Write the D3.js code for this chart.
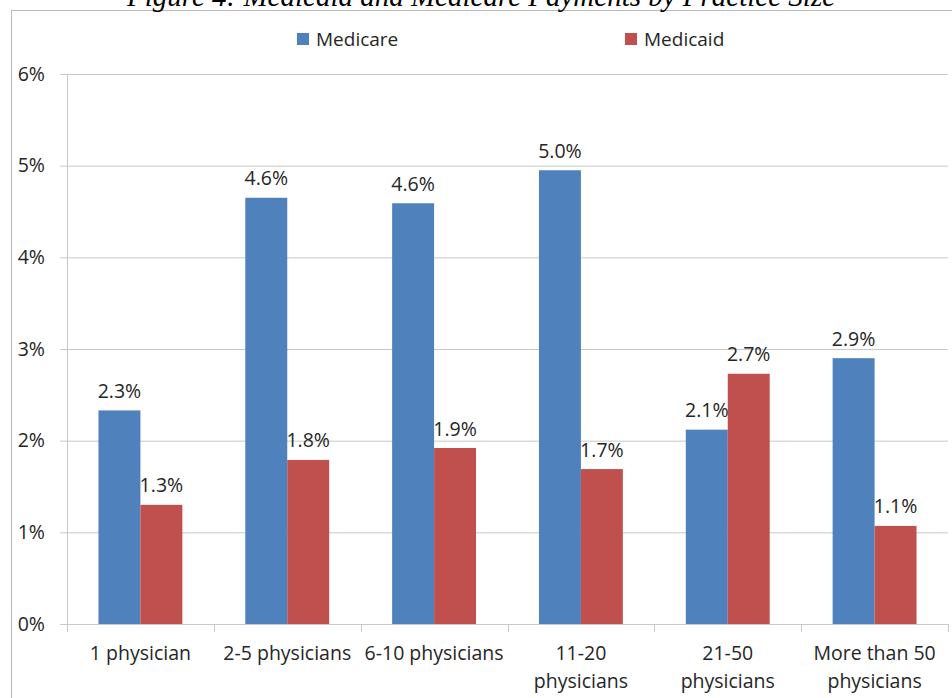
<!DOCTYPE html>
<html>
<head>
<meta charset="utf-8">
<script src="https://cdn.jsdelivr.net/npm/d3@7"></script>
<style>
  html, body { margin: 0; padding: 0; background: #fff; }
  svg { display: block; }
  text { font-family: "Open Sans", "Noto Sans", sans-serif; fill: #262626; }
</style>
</head>
<body>
<svg id="chart" width="952" height="698"></svg>
<script>
const title = "Figure 4: Medicaid and Medicare Payments by Practice Size";
const categories = ["1 physician", "2-5 physicians", "6-10 physicians", "11-20 physicians", "21-50 physicians", "More than 50 physicians"];
const seriesNames = ["Medicare", "Medicaid"];
const medicare = [2.33, 4.65, 4.59, 4.95, 2.12, 2.90];
const medicaid = [1.30, 1.79, 1.92, 1.69, 2.73, 1.07];
const medicareLabels = ["2.3%", "4.6%", "4.6%", "5.0%", "2.1%", "2.9%"];
const medicaidLabels = ["1.3%", "1.8%", "1.9%", "1.7%", "2.7%", "1.1%"];
const yTicks = [0, 1, 2, 3, 4, 5, 6];
const colors = ["#4F81BD", "#C0504D"];

const svg = d3.select("#chart");
const x0 = 67, x1 = 948, yBottom = 624, yTop = 74;
const fontSize = 19.5;

// chart border
svg.append("rect").attr("x", 11.5).attr("y", 10.5).attr("width", 1000).attr("height", 1000)
  .attr("fill", "none").attr("stroke", "#b8b8b8").attr("stroke-width", 1);

// title (partially clipped at top, as in the reference)
svg.append("text").attr("x", 481).attr("y", 6)
  .attr("text-anchor", "middle")
  .style("font-family", "'Liberation Serif', 'DejaVu Serif', serif")
  .style("font-style", "italic").style("font-size", "29px").style("fill", "#000")
  .text(title);

const x = d3.scaleBand().domain(categories).range([x0, x1]).paddingInner(0).paddingOuter(0);
const xs = d3.scaleBand().domain(seriesNames).range([0, x.bandwidth()]).paddingInner(0).paddingOuter(0.75);
const y = d3.scaleLinear().domain([0, 6]).range([yBottom, yTop]);

// gridlines + y axis
const yAxis = d3.axisLeft(y).tickValues(yTicks).tickFormat(d => d + "%").tickSize(-(x1 - x0)).tickPadding(22);
const gy = svg.append("g").attr("transform", `translate(${x0},0)`).call(yAxis);
gy.select(".domain").remove();
gy.selectAll(".tick line").attr("stroke", "#c8c8c8").attr("x1", -7);
gy.selectAll(".tick text").style("font-size", fontSize + "px").attr("fill", "#262626")
  .style("font-family", "'Open Sans', sans-serif");
svg.append("line").attr("x1", x0 + 0.5).attr("x2", x0 + 0.5).attr("y1", yTop).attr("y2", yBottom)
  .attr("stroke", "#c8c8c8");

// bars
const rows = categories.map((c, i) => ({ cat: c, values: [
  { s: seriesNames[0], v: medicare[i], label: medicareLabels[i], color: colors[0] },
  { s: seriesNames[1], v: medicaid[i], label: medicaidLabels[i], color: colors[1] }
]}));

const groups = svg.append("g").selectAll("g").data(rows).join("g")
  .attr("transform", d => `translate(${x(d.cat)},0)`);
groups.selectAll("rect").data(d => d.values).join("rect")
  .attr("x", d => xs(d.s)).attr("width", xs.bandwidth())
  .attr("y", d => y(d.v)).attr("height", d => yBottom - y(d.v))
  .attr("fill", d => d.color);
groups.selectAll("text.val").data(d => d.values).join("text").attr("class", "val")
  .attr("x", d => xs(d.s) + xs.bandwidth() / 2)
  .attr("y", d => y(d.v) - 12.5)
  .attr("text-anchor", "middle").style("font-size", fontSize + "px")
  .text(d => d.label);

// x axis
const xAxis = d3.axisBottom(x).tickSize(0).tickFormat("");
const gx = svg.append("g").attr("transform", `translate(0,${yBottom})`).call(xAxis);
gx.select(".domain").attr("stroke", "#c8c8c8").attr("d", `M${x0},0.5H${x1}`);
const boundaries = categories.map(c => x(c)).concat([x1]);
svg.append("g").selectAll("line").data(boundaries).join("line")
  .attr("x1", d => Math.round(d) + 0.5).attr("x2", d => Math.round(d) + 0.5)
  .attr("y1", yBottom).attr("y2", yBottom + 8).attr("stroke", "#c8c8c8");

// category labels with wrapping
const labels = svg.append("g").selectAll("text").data(categories).join("text")
  .attr("x", d => x(d) + x.bandwidth() / 2).attr("y", 660)
  .attr("text-anchor", "middle").style("font-size", fontSize + "px");
labels.each(function(d) {
  const t = d3.select(this);
  t.text(d);
  if (this.getComputedTextLength() > x.bandwidth() * 0.97) {
    const words = d.split(" ");
    const line1 = words.slice(0, -1).join(" ");
    const line2 = words[words.length - 1];
    t.text(null);
    t.append("tspan").attr("x", x(d) + x.bandwidth() / 2).attr("dy", 0).text(line1);
    t.append("tspan").attr("x", x(d) + x.bandwidth() / 2).attr("dy", 28).text(line2);
  }
});

// legend
const legendItems = [
  { name: seriesNames[0], color: colors[0], x: 297 },
  { name: seriesNames[1], color: colors[1], x: 625 }
];
const lg = svg.append("g").selectAll("g").data(legendItems).join("g")
  .attr("transform", d => `translate(${d.x},33)`);
lg.append("rect").attr("width", 12).attr("height", 12).attr("fill", d => d.color);
lg.append("text").attr("x", 19).attr("y", 13).style("font-size", "19px").text(d => d.name);
</script>
</body>
</html>
